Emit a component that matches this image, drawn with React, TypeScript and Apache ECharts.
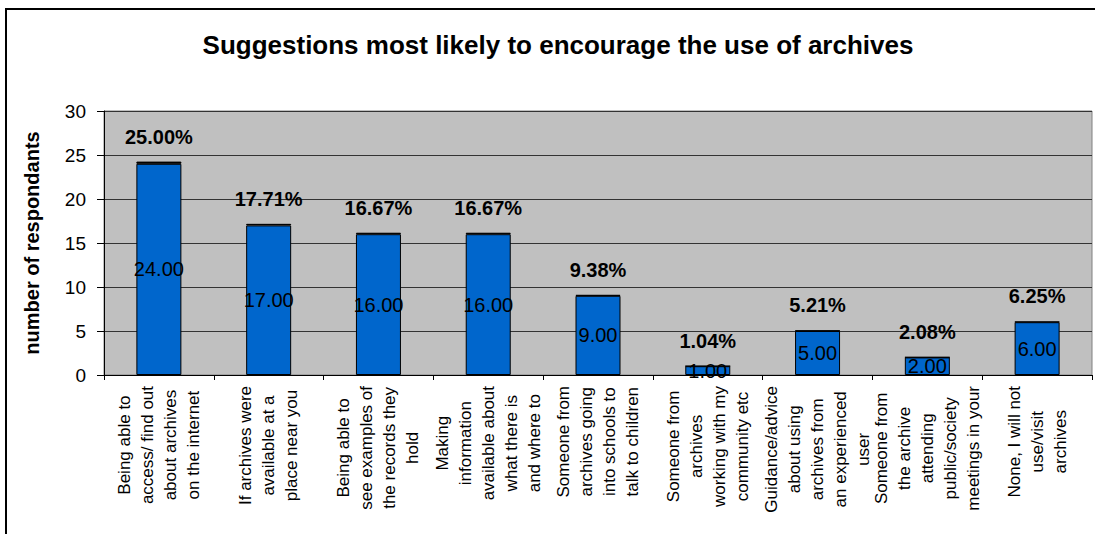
import React, { useEffect, useRef } from "react";
import * as echarts from "echarts";

const TITLE = "Suggestions most likely to encourage the use of archives";
const Y_NAME = "number of respondants";

const categoryLines: string[][] = [
  ["Being able to", "access/ find out", "about archives", "on the internet"],
  ["If archives were", "available at a", "place near you"],
  ["Being able to", "see examples of", "the records they", "hold"],
  ["Making", "information", "available about", "what there is", "and where to"],
  ["Someone from", "archives going", "into schools to", "talk to children"],
  ["Someone from", "archives", "working with my", "community etc"],
  ["Guidance/advice", "about using", "archives from", "an experienced", "user"],
  ["Someone from", "the archive", "attending", "public/society", "meetings in your"],
  ["None, I will not", "use/visit", "archives"],
];

const counts = [24, 17, 16, 16, 9, 1, 5, 2, 6];
const percents = [25.0, 17.71, 16.67, 16.67, 9.38, 1.04, 5.21, 2.08, 6.25];

const yTicks = { min: 0, max: 30, interval: 5 };

const FONT = '"Liberation Sans", Arial, sans-serif';

export default function App() {
  const ref = useRef<HTMLDivElement>(null);

  useEffect(() => {
    if (!ref.current) return;
    const chart = echarts.init(ref.current, undefined, { renderer: "svg" });
    const categories = categoryLines.map((l) => l.join("\n"));

    chart.setOption({
      animation: false,
      backgroundColor: "#ffffff",
      textStyle: { fontFamily: FONT },
      graphic: [
        {
          type: "rect",
          silent: true,
          z: -10,
          shape: { x: 6, y: 9, width: 1200, height: 700 },
          style: { fill: "none", stroke: "#000", lineWidth: 2 },
        },
        {
          type: "text",
          x: 558,
          y: 45,
          style: {
            text: TITLE,
            fontFamily: FONT,
            fontSize: 26,
            fontWeight: "bold",
            fill: "#000",
            textAlign: "center",
            textVerticalAlign: "middle",
          },
        },
      ],
      grid: {
        left: 104,
        right: 3,
        top: 111,
        bottom: 159,
        show: true,
        backgroundColor: "#C0C0C0",
        borderColor: "#808080",
        borderWidth: 1,
        containLabel: false,
        outerBoundsMode: "none",
      },
      xAxis: {
        type: "category",
        data: categories,
        axisLine: { show: true, lineStyle: { color: "#000", width: 1 } },
        axisTick: { show: true, interval: 0, length: 5, lineStyle: { color: "#000" } },
        splitLine: { show: false },
        axisLabel: {
          interval: 0,
          rotate: 90,
          margin: 11,
          hideOverlap: false,
          formatter: (v: string) =>
            v
              .split("\n")
              .map((l) => `{c|${l}}`)
              .join("\n"),
          rich: {
            c: {
              align: "center",
              fontSize: 17,
              lineHeight: 23,
              fontFamily: FONT,
              color: "#000",
            },
          },
        },
      },
      yAxis: {
        type: "value",
        min: yTicks.min,
        max: yTicks.max,
        interval: yTicks.interval,
        name: Y_NAME,
        nameLocation: "middle",
        nameGap: 62,
        nameTextStyle: { fontSize: 20, fontWeight: "bold", color: "#000", fontFamily: FONT },
        axisLine: { show: true, lineStyle: { color: "#000", width: 1 } },
        axisTick: { show: true, length: 7, lineStyle: { color: "#000" } },
        axisLabel: { fontSize: 19, color: "#000", margin: 18, fontFamily: FONT },
        splitLine: { show: true, lineStyle: { color: "#333", width: 1 } },
      },
      series: [
        {
          name: "count",
          type: "bar",
          stack: "a",
          barWidth: 45,
          data: counts,
          itemStyle: { color: "#0066CC", borderColor: "#000", borderWidth: 1 },
          label: {
            show: true,
            position: "inside",
            formatter: (p: any) => Number(p.value).toFixed(2),
            fontSize: 20,
            color: "#000",
            fontFamily: FONT,
          },
        },
        {
          name: "percent",
          type: "bar",
          stack: "a",
          barWidth: 45,
          data: percents.map((p) => p / 100),
          itemStyle: { color: "#000", borderColor: "#000", borderWidth: 1 },
          label: {
            show: true,
            position: "top",
            distance: 15,
            formatter: (p: any) => (Number(p.value) * 100).toFixed(2) + "%",
            fontSize: 20,
            fontWeight: "bold",
            color: "#000",
            fontFamily: FONT,
          },
        },
      ],
    });

    return () => chart.dispose();
  }, []);

  return (
    <div
      ref={ref}
      style={{ position: "fixed", left: 0, top: 0, width: 1095, height: 534 }}
    />
  );
}
